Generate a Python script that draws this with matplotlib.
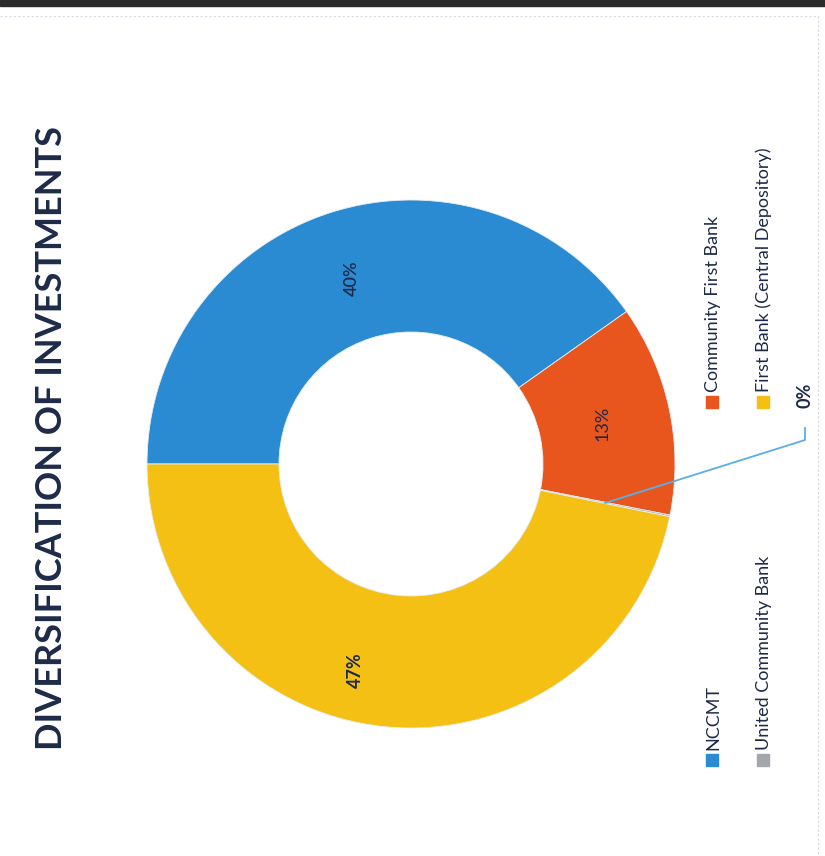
import numpy as np
import matplotlib.pyplot as plt
from matplotlib.patches import Rectangle

# data (chart is a scanned page turned 90 degrees, so everything is drawn rotated)
names = ['NCCMT', 'Community First Bank', 'United Community Bank', 'First Bank (Central Depository)']
shares = [40.2, 12.9, 0.1, 46.8]
colors = ['#2a8bd2', '#e8561e', '#a3a6ad', '#f4c013']
title = 'DIVERSIFICATION OF INVESTMENTS'

W, H = 825, 856
navy = '#1d2a48'
plt.rcParams['font.family'] = ['Lato', 'DejaVu Sans']

fig = plt.figure(figsize=(W / 100, H / 100), dpi=100)
ax = fig.add_axes([0, 0, 1, 1])

cx, cy, R = 411, H - 464, 264

def lab(p):
    return '' if p < 1 else '%.0f%%' % p

wedges, _, autotexts = ax.pie(shares, colors=colors, startangle=180, counterclock=False,
                              center=(cx, cy), radius=R, autopct=lab, pctdistance=0.74,
                              wedgeprops=dict(width=R * 0.5, edgecolor='#e8eef6', linewidth=0.6),
                              textprops=dict(color=navy, fontsize=13, rotation=90))
for t in autotexts:
    t.set_rotation(90)
    if t.get_text() == '47%':
        t.set_fontweight('bold')
    elif t.get_text() == '40%':
        t.set_fontweight('semibold')

# the big yellow label sits a little off the slice middle in the original
w = wedges[3]
a = np.deg2rad(w.theta2 - 0.555 * (w.theta2 - w.theta1))
autotexts[3].set_position((cx + 0.81 * R * np.cos(a), cy + 0.81 * R * np.sin(a)))

ax.set_xlim(0, W)
ax.set_ylim(0, H)
ax.set_aspect('auto')
ax.axis('off')

# leader for the tiny slice
w = wedges[2]
mid = np.deg2rad((w.theta1 + w.theta2) / 2)
x0, y0 = cx + 0.75 * R * np.cos(mid), cy + 0.75 * R * np.sin(mid)
ax.plot([x0, 805, 805], [y0, H - 440, H - 428], color='#5aaee6', lw=1.3)
ax.text(805, H - 395, '0%', rotation=90, rotation_mode='anchor', ha='center', va='center',
        fontsize=13, fontweight='bold', color=navy)

# title
ax.text(52, H - 750, title, rotation=90, rotation_mode='anchor', ha='left', va='center',
        fontsize=26, fontweight='bold', color=navy)

# legend, drawn by hand because it is rotated
spots = [(712, 760), (712, 402), (763, 760), (763, 402)]
for (lx, ly), name, c in zip(spots, names, colors):
    ax.add_patch(Rectangle((lx - 6, H - ly - 6), 12, 12, color=c))
    ax.text(lx + 1, H - ly + 10, name, rotation=90, rotation_mode='anchor', ha='left', va='center',
            fontsize=13, color=navy)

# scan edge at the top
fig.patches.append(Rectangle((0, 1 - 6 / H), 1, 6 / H, transform=fig.transFigure, color='#2b2b2b'))
ax.plot([0, 818, 818], [H - 16, H - 16, 0], color='#d5dbe4', lw=0.8, ls=(0, (2, 2)))

fig.savefig('out.png', dpi=100)
